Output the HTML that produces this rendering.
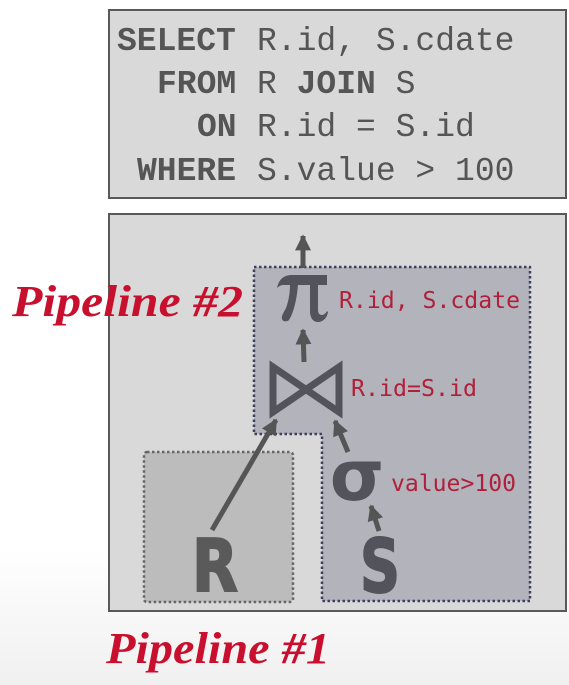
<!DOCTYPE html>
<html><head><meta charset="utf-8"><style>
html,body{margin:0;padding:0;width:569px;height:685px;overflow:hidden;background:#fff}
</style></head><body>
<svg width="569" height="685" viewBox="0 0 569 685" xmlns="http://www.w3.org/2000/svg">
<defs>
<linearGradient id="bg" x1="0" y1="0" x2="0" y2="1">
<stop offset="0.8" stop-color="#ffffff"/><stop offset="1" stop-color="#f0f0f0"/>
</linearGradient>
<marker id="ah" viewBox="0 0 10 10" refX="9" refY="5" markerWidth="3.2" markerHeight="3.2" orient="auto">
<path d="M0,0 L10,5 L0,10 z" fill="#555"/>
</marker>
</defs>
<rect width="569" height="685" fill="url(#bg)"/>
<!-- SQL box -->
<rect x="109" y="10" width="457" height="188" fill="#d9d9d9" stroke="#595959" stroke-width="2"/>
<g font-family="Liberation Mono, DejaVu Sans Mono, monospace" font-size="33" fill="#555">
<text x="117" y="50" font-weight="bold">SELECT</text>
<text x="257" y="50">R.id, S.cdate</text>
<text x="157" y="93" font-weight="bold">FROM</text>
<text x="257" y="93">R <tspan font-weight="bold">JOIN</tspan> S</text>
<text x="197" y="136" font-weight="bold">ON</text>
<text x="257" y="136">R.id = S.id</text>
<text x="137" y="180" font-weight="bold">WHERE</text>
<text x="257" y="180">S.value &gt; 100</text>
</g>
<!-- Plan box -->
<rect x="109" y="214" width="457" height="397" fill="#d9d9d9" stroke="#595959" stroke-width="2"/>
<!-- Pipeline 1 box -->
<rect x="144" y="452" width="149" height="150" rx="3" fill="#bcbcbc" stroke="#666" stroke-width="2.5" stroke-dasharray="2.5,2.5"/>
<!-- Pipeline 2 polygon -->
<path d="M254,267 H530 V601 H322 V434 H254 Z" fill="#b3b3bb" stroke="#3e3e5e" stroke-width="2.5" stroke-dasharray="2.5,2.5" stroke-linejoin="round"/>
<!-- arrows -->
<g stroke="#555" stroke-width="5" fill="none" marker-end="url(#ah)">
<line x1="303" y1="268" x2="303" y2="236"/>
<line x1="304" y1="362" x2="303" y2="330"/>
<line x1="212" y1="530" x2="276" y2="420"/>
<line x1="348" y1="452" x2="335" y2="421"/>
<line x1="379" y1="531" x2="371" y2="506"/>
</g>
<!-- pi drawn -->
<g fill="#53535b">
<path d="M277,288 C279,279 284,275 292,275 L327,275 L327,285 L283,285 C281,285 279,286 277,288 Z"/>
<path d="M290,284 L298,284 C297,298 294,312 289,320 C287,322 283,322 282,319 C281,316 284,312 286,308 C289,300 290,292 290,284 Z"/>
<path d="M310,284 L318,284 L318,310 C318,314 320,315 322,315 C324,315 326,313 327,311 L328,312 C327,318 323,322 318,322 C313,322 310,318 310,311 Z"/>
</g>
<path d="M273,367 L273,412 L339,367 L339,412 Z" fill="none" stroke="#53535b" stroke-width="7" stroke-linejoin="miter"/>
<text x="357" y="500" text-anchor="middle" font-family="DejaVu Sans, sans-serif" font-weight="bold" font-size="70" fill="#53535b">σ</text>
<text x="215" y="591" text-anchor="middle" font-family="DejaVu Sans, Liberation Sans, sans-serif" font-weight="bold" font-size="72" fill="#5a5a5a" stroke="#5a5a5a" stroke-width="2" textLength="46" lengthAdjust="spacingAndGlyphs">R</text>
<text x="380" y="592" text-anchor="middle" font-family="DejaVu Sans, Liberation Sans, sans-serif" font-weight="bold" font-size="74" fill="#53535b" stroke="#53535b" stroke-width="2" textLength="40" lengthAdjust="spacingAndGlyphs">S</text>
<!-- labels -->
<g font-family="DejaVu Sans Mono, Liberation Mono, monospace" font-size="23" fill="#b0203a">
<text x="339" y="308" textLength="181" lengthAdjust="spacingAndGlyphs">R.id, S.cdate</text>
<text x="351" y="396" textLength="126" lengthAdjust="spacingAndGlyphs">R.id=S.id</text>
<text x="391" y="491" textLength="125" lengthAdjust="spacingAndGlyphs">value&gt;100</text>
</g>
<g font-family="Liberation Serif, DejaVu Serif, serif" font-weight="bold" font-style="italic" font-size="44" fill="#c8102e">
<text x="12" y="316" textLength="231" lengthAdjust="spacingAndGlyphs">Pipeline #2</text>
<text x="106" y="663" textLength="224" lengthAdjust="spacingAndGlyphs">Pipeline #1</text>
</g>
</svg>
</body></html>
